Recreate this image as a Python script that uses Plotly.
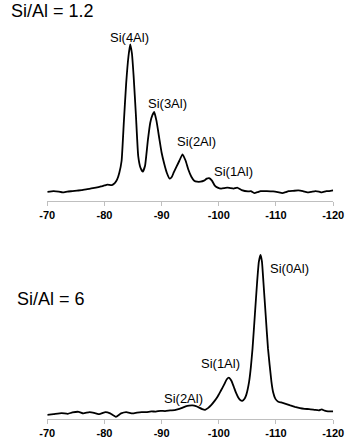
import plotly.graph_objects as go

# ---- data ----
top_ppm = [-70.0, -71.1, -72.0, -72.7, -73.5, -74.4, -75.2, -76.0, -77.0, -77.7, -78.5, -79.4,
           -80.0, -80.5, -81.3, -81.8, -82.2, -82.6, -83.0, -83.4, -83.8, -84.2, -84.5, -84.8,
           -85.1, -85.5, -85.9, -86.3, -86.7, -87.1, -87.6, -88.0, -88.4, -88.7, -89.1, -89.6,
           -90.0, -90.45, -90.9, -91.4, -91.8, -92.1, -92.6, -93.1, -93.65, -94.2, -94.65, -95.2,
           -95.7, -96.2, -96.8, -97.4, -97.9, -98.3, -98.8, -99.3, -99.8, -100.4, -101.0, -101.5,
           -102.0, -102.6, -103.2, -104.0, -105.1, -105.6, -106.2, -106.8, -107.3, -108.4, -109.5,
           -110.3, -111.1, -111.7, -112.2, -113.0, -113.9, -114.7, -115.5, -116.2, -116.9, -117.5,
           -118.0, -118.8, -119.3, -120.0]
top_int = [8.8, 9.5, 9.0, 8.2, 9.0, 9.5, 10.0, 10.5, 11.5, 12.2, 13.0, 14.2,
           15.2, 16.0, 15.6, 17.5, 21, 28, 40, 80, 118, 145, 157, 148,
           125, 86, 45, 33, 29, 35, 61, 78, 86, 89, 80, 62,
           48, 37, 28, 22, 24, 28, 34, 40, 46.5, 40, 31.5, 24,
           20, 19, 19, 20, 22, 22.5, 20, 15, 13, 12, 12.5, 13,
           12.5, 12, 13, 10.5, 9.2, 9.5, 7.5, 8.5, 9.5, 9.5, 9.2,
           8.5, 7.5, 8.5, 9.5, 9.8, 10.2, 9.5, 8.2, 8.8, 9.5, 9.0,
           8.2, 9.5, 9.5, 10.2]

bot_ppm = [-70.0, -71.1, -72.5, -73.6, -74.4, -75.5, -76.3, -77.4, -78.5, -79.1, -80.2, -81.0,
           -82.0, -82.9, -83.8, -84.9, -85.7, -86.5, -87.3, -88.2, -89.0, -89.8, -90.6, -91.5,
           -92.3, -93.1, -93.7, -94.2, -94.8, -95.4, -96.0, -96.5, -97.1, -97.6, -98.1, -98.7,
           -99.3, -99.8, -100.4, -100.9, -101.4, -101.75, -102.2, -102.6, -103.0, -103.4, -103.8,
           -104.1, -104.5, -104.8, -105.3, -105.6, -105.9, -106.3, -106.7, -107.0, -107.3, -107.55,
           -107.8, -108.2, -108.6, -109.2, -109.5, -109.9, -110.4, -110.9, -111.7, -112.5, -113.3,
           -114.2, -115.0, -115.8, -116.7, -117.5, -118.0, -118.5, -119.1, -120.0]
bot_int = [4.3, 5.0, 6.0, 5.3, 6.7, 7.3, 5.7, 7.0, 5.7, 5.0, 7.0, 5.7,
           2.3, 5.7, 7.0, 5.7, 6.5, 7.0, 7.0, 7.7, 7.5, 8.3, 8.0, 8.7,
           9.0, 10.3, 11.5, 12.7, 13.5, 13.7, 13.0, 11.7, 10.0, 9.3, 11.0, 14.3,
           18.5, 22.7, 29, 34.3, 40, 41.7, 38.5, 32.7, 26.5, 21.7, 18.8,
           18.3, 20.5, 24.3, 37.7, 52, 71, 104.3, 137.7, 158, 165, 158,
           137.7, 104.3, 71, 37.7, 27, 20.3, 17.5, 16.7, 15.3, 13.7, 12.3,
           11.0, 10.3, 10.0, 9.3, 8.7, 9.7, 8.5, 7.7, 7.7]

top_labels = ["Si(4Al)", "Si(3Al)", "Si(2Al)", "Si(1Al)"]
top_label_ppm = [-84.35, -91.0, -96.1, -102.5]
top_label_int = [164, 98, 59, 29.5]

bot_labels = ["Si(2Al)", "Si(1Al)", "Si(0Al)"]
bot_label_ppm = [-93.8, -100.3, -112.3]
bot_label_int = [21, 56, 151]

tick_vals = [-70, -80, -90, -100, -110, -120]
tick_text = ["-70", "-80", "-90", "-100", "-110", "-120"]

titles = ["Si/Al = 1.2", "Si/Al = 6"]

# ---- figure ----
W, H = 356, 439
fig = go.Figure()
fig.add_trace(go.Scatter(x=top_ppm, y=top_int, mode="lines", xaxis="x", yaxis="y",
                         line=dict(color="black", width=1.8, shape="spline", smoothing=0.4),
                         showlegend=False, hoverinfo="skip"))
fig.add_trace(go.Scatter(x=bot_ppm, y=bot_int, mode="lines", xaxis="x2", yaxis="y2",
                         line=dict(color="black", width=1.8, shape="spline", smoothing=0.4),
                         showlegend=False, hoverinfo="skip"))

xdom = [41.5 / W, 343.5 / W]
top_y0 = 1 - 201.5 / H
bot_y0 = 1 - 421 / H
hgt = 180 / H

xaxis_style = dict(range=[-70, -120], domain=xdom, showgrid=False, zeroline=False,
                   showline=True, linecolor="#bfbfbf", linewidth=1,
                   ticks="outside", ticklen=4, tickcolor="#bfbfbf", tickwidth=1,
                   tickvals=tick_vals, ticktext=tick_text,
                   tickfont=dict(family="Liberation Sans Narrow, Liberation Sans, Arial",
                                 size=11, color="black", weight="bold"),
                   fixedrange=True)
fig.update_layout(
    width=W, height=H, margin=dict(l=0, r=0, t=0, b=0),
    paper_bgcolor="white", plot_bgcolor="white",
    xaxis=dict(anchor="y", **xaxis_style),
    yaxis=dict(domain=[top_y0, top_y0 + hgt], range=[0, 180], visible=False, anchor="x",
               fixedrange=True),
    xaxis2=dict(anchor="y2", **xaxis_style),
    yaxis2=dict(domain=[bot_y0, bot_y0 + hgt], range=[0, 180], visible=False, anchor="x2",
                fixedrange=True),
)

lab_font = dict(family="Liberation Sans, Arial", size=13, color="black")
for t, px, py in zip(top_labels, top_label_ppm, top_label_int):
    fig.add_annotation(x=px, y=py, xref="x", yref="y", text=t, showarrow=False, font=lab_font)
for t, px, py in zip(bot_labels, bot_label_ppm, bot_label_int):
    fig.add_annotation(x=px, y=py, xref="x2", yref="y2", text=t, showarrow=False, font=lab_font)

title_font = dict(family="Liberation Sans, Arial", size=18, color="black")
fig.add_annotation(x=1 / W, y=1 - 11 / H, xref="paper", yref="paper", text=titles[0],
                   showarrow=False, xanchor="left", yanchor="middle", font=title_font)
fig.add_annotation(x=7 / W, y=1 - 300 / H, xref="paper", yref="paper", text=titles[1],
                   showarrow=False, xanchor="left", yanchor="middle", font=title_font)

fig.write_html("out.html", config={"displayModeBar": False},
               post_script="document.body.style.margin='0';")
